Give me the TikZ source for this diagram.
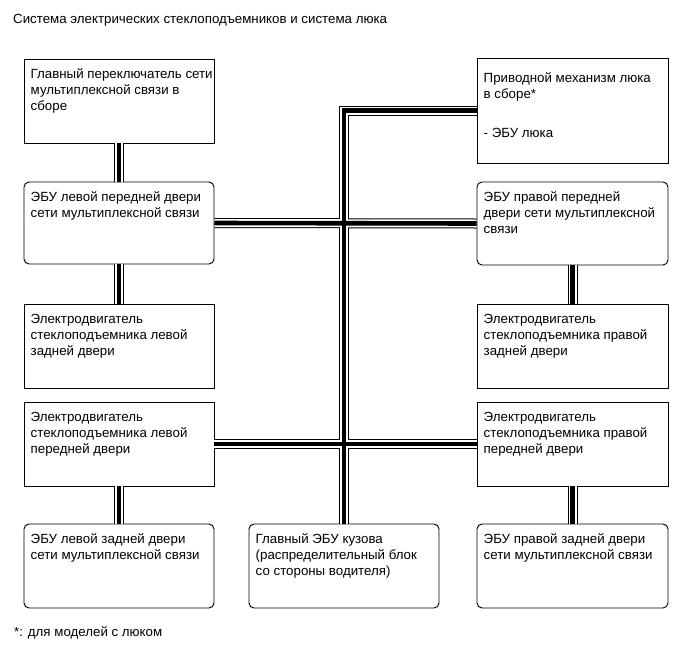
\documentclass[tikz,border=0pt]{standalone}
\usepackage{fontspec}
\setmainfont{Liberation Sans}
\begin{document}
\begin{tikzpicture}[x=1pt,y=-1pt,
  box/.style={draw, line width=0.95pt, fill=white, inner sep=0pt, minimum width=190pt, minimum height=84pt},
  rbox/.style={box, rounded corners=5pt},
  lbl/.style={anchor=north west, inner sep=0pt, align=left, xshift=7pt, yshift=-7.5pt,
    font=\fontsize{13.3}{16}\selectfont},
  plain/.style={anchor=base west, inner sep=0pt, font=\fontsize{13.3}{16}\selectfont},
]
\useasboundingbox[fill=white] (0,0) rectangle (686,662);

\node[plain] (title) at (13,23) {Система электрических стеклоподъемников и система люка};
\node[plain] (note) at (14,636) {*: для моделей с люком};

% boxes
\node[box]  (A) at (119,101) {};
\node[rbox, minimum height=82pt] (B) at (119,223) {};
\node[box, minimum width=191pt, minimum height=105pt] (C) at (572.5,110.5) {};
\node[rbox, minimum width=191pt, minimum height=83pt] (D) at (572.5,223.5) {};
\node[box]  (G) at (119,346) {};
\node[box, minimum width=191pt]  (E) at (572.5,346) {};
\node[box]  (H) at (119,444) {};
\node[box, minimum width=191pt]  (F) at (572.5,444) {};
\node[rbox] (I) at (119,566) {};
\node[rbox] (J) at (344,566) {};
\node[rbox, minimum width=191pt] (K) at (572.5,566) {};

% cables (three passes so junctions merge)
\foreach \w/\c in {10/black, 8/white, 4.6/black}{
  \draw[line width=\w pt, \c] (A.south) -- (B.north);
  \draw[line width=\w pt, \c] (B.south) -- (G.north);
  \draw[line width=\w pt, \c] (H.south) -- (I.north);
  \draw[line width=\w pt, \c] (D.south) -- (E.north);
  \draw[line width=\w pt, \c] (F.south) -- (K.north);
  \draw[line width=\w pt, \c] (C.west) -| (J.north);
  \draw[line width=\w pt, \c] (B.east) -- (D.west);
  \draw[line width=\w pt, \c] (H.east) -- (F.west);
}

% labels
\node[lbl] (At) at (A.north west) {\rule{0pt}{12pt}Главный переключатель сети\\мультиплексной связи в\\сборе};
\node[lbl] (Bt) at (B.north west) {\rule{0pt}{12pt}ЭБУ левой передней двери\\сети мультиплексной связи};
\node[lbl, yshift=-5.5pt] (Ct) at (C.north west) {\rule{0pt}{12pt}Приводной механизм люка\\в сборе*\\[23pt]- ЭБУ люка};
\node[lbl] (Dt) at (D.north west) {\rule{0pt}{12pt}ЭБУ правой передней\\двери сети мультиплексной\\связи};
\node[lbl] (Gt) at (G.north west) {\rule{0pt}{12pt}Электродвигатель\\стеклоподъемника левой\\задней двери};
\node[lbl] (Et) at (E.north west) {\rule{0pt}{12pt}Электродвигатель\\стеклоподъемника правой\\задней двери};
\node[lbl] (Ht) at (H.north west) {\rule{0pt}{12pt}Электродвигатель\\стеклоподъемника левой\\передней двери};
\node[lbl] (Ft) at (F.north west) {\rule{0pt}{12pt}Электродвигатель\\стеклоподъемника правой\\передней двери};
\node[lbl] (It) at (I.north west) {\rule{0pt}{12pt}ЭБУ левой задней двери\\сети мультиплексной связи};
\node[lbl] (Jt) at (J.north west) {\rule{0pt}{12pt}Главный ЭБУ кузова\\(распределительный блок\\со стороны водителя)};
\node[lbl] (Kt) at (K.north west) {\rule{0pt}{12pt}ЭБУ правой задней двери\\сети мультиплексной связи};
\end{tikzpicture}
\end{document}
